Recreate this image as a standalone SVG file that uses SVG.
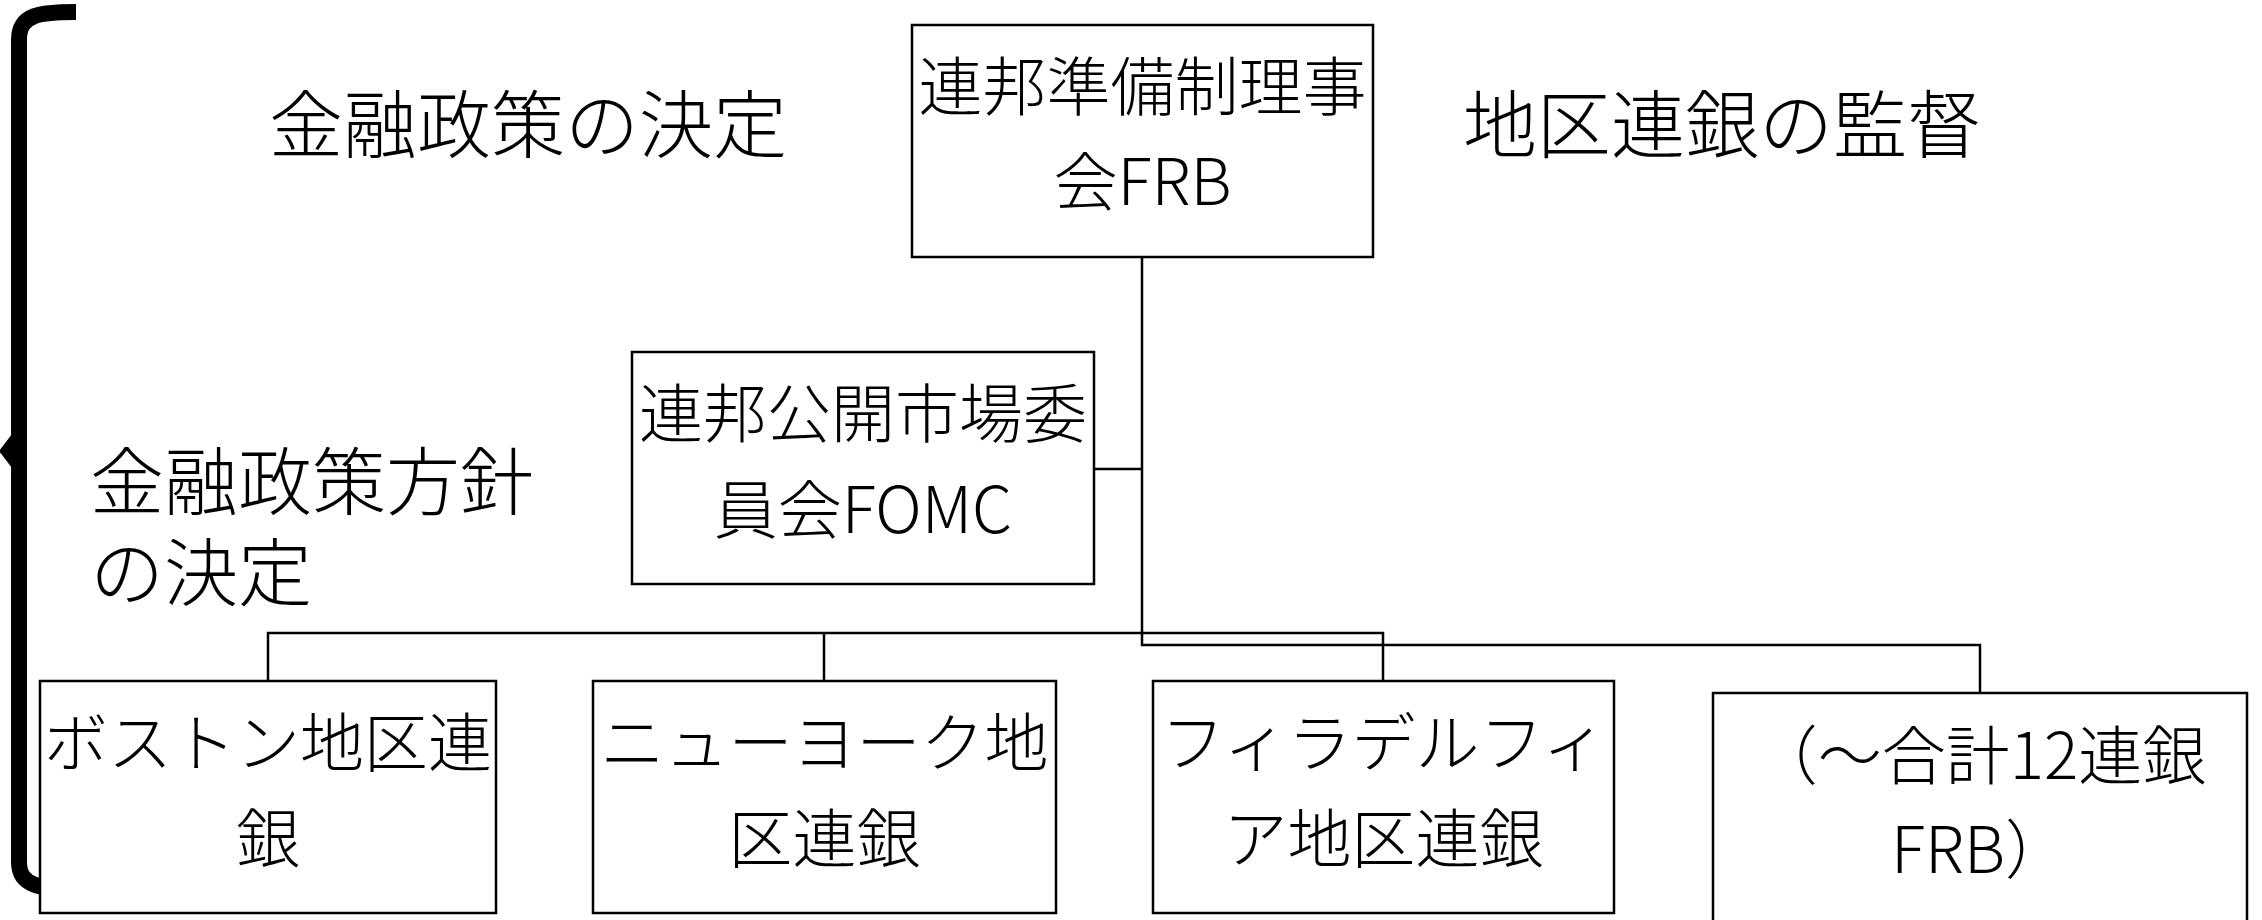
<svg xmlns="http://www.w3.org/2000/svg" width="2262" height="920" viewBox="0 0 2262 920">
<style>
.box{fill:#fff;stroke:#000;stroke-width:2.5}
.t{font-family:"Noto Sans CJK JP","Noto Sans CJK SC",sans-serif;font-weight:300;fill:#000;text-anchor:middle}
.bt{font-size:64px}
.lb{font-size:74px}
.conn{fill:none;stroke:#000;stroke-width:2.5}
</style>
<rect width="2262" height="920" fill="#fff"/>
<g id="brace">
<path d="M76 12 C40 12 19 14 19 40 L19 862 C19 886 40 889 76 889" fill="none" stroke="#000" stroke-width="16"/>
<polygon points="12,434 -1,451 12,468" fill="#000"/>
</g>
<g id="connectors">
<path class="conn" d="M1142 257 V645 H1980 V693"/>
<path class="conn" d="M1094 469 H1142"/>
<path class="conn" d="M268 681 V633 H1383 V681"/>
<path class="conn" d="M824 633 V681"/>
</g>
<g id="label-policy">
<text class="t lb" x="528" y="152">金融政策の決定</text>
</g>
<g id="label-supervision">
<text class="t lb" x="1722" y="152">地区連銀の監督</text>
</g>
<g id="label-direction">
<text class="t lb" x="90" y="509" style="text-anchor:start">金融政策方針</text>
<text class="t lb" x="90" y="600" style="text-anchor:start">の決定</text>
</g>
<g id="frb">
<rect class="box" x="912" y="25" width="461" height="232"/>
<text class="t bt" x="1142.5" y="110">連邦準備制理事</text>
<text class="t bt" x="1142.5" y="205">会FRB</text>
</g>
<g id="fomc">
<rect class="box" x="632" y="352" width="462" height="232"/>
<text class="t bt" x="863" y="437">連邦公開市場委</text>
<text class="t bt" x="863" y="533">員会FOMC</text>
</g>
<g id="boston">
<rect class="box" x="40" y="681" width="456" height="232"/>
<text class="t bt" x="268" y="766">ボストン地区連</text>
<text class="t bt" x="268" y="862">銀</text>
</g>
<g id="newyork">
<rect class="box" x="593" y="681" width="463" height="232"/>
<text class="t bt" x="824.5" y="766">ニューヨーク地</text>
<text class="t bt" x="824.5" y="862">区連銀</text>
</g>
<g id="philadelphia">
<rect class="box" x="1153" y="681" width="461" height="232"/>
<text class="t bt" x="1383.5" y="766">フィラデルフィ</text>
<text class="t bt" x="1383.5" y="862">ア地区連銀</text>
</g>
<g id="others">
<rect class="box" x="1713" y="693" width="534" height="240"/>
<text class="t bt" x="1980" y="779">（～合計12連銀</text>
<text class="t bt" x="1980" y="873">FRB）</text>
</g>
</svg>
